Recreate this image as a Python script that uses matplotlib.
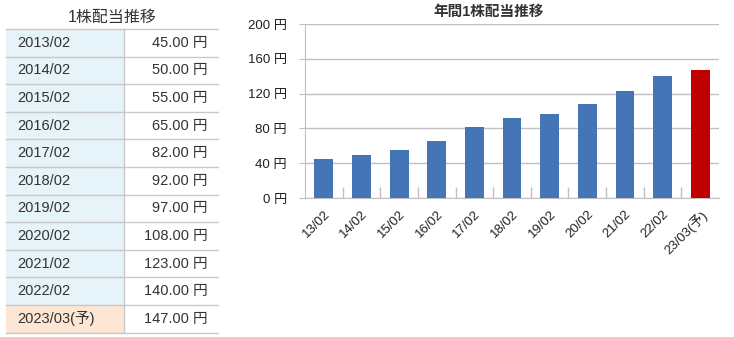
import numpy as np
import matplotlib.pyplot as plt

plt.rcParams['font.family'] = ['Liberation Sans', 'Noto Sans CJK JP', 'DejaVu Sans']

# data
periods = ['2013/02', '2014/02', '2015/02', '2016/02', '2017/02', '2018/02',
           '2019/02', '2020/02', '2021/02', '2022/02', '2023/03(予)']
short_labels = ['13/02', '14/02', '15/02', '16/02', '17/02', '18/02',
                '19/02', '20/02', '21/02', '22/02', '23/03(予)']
dividends = [45.0, 50.0, 55.0, 65.0, 82.0, 92.0, 97.0, 108.0, 123.0, 140.0, 147.0]
forecast = [False] * 10 + [True]

W, H = 734, 337
fig = plt.figure(figsize=(W / 100, H / 100), dpi=100)

# ---- table (left) in pixel coords ----
tax = fig.add_axes([0, 0, 1, 1])
tax.set_xlim(0, W)
tax.set_ylim(H, 0)
tax.axis('off')

grid_c = '#c8c8c8'
txt_c = '#333333'
row_top, row_h = 29, 27.6
x0, xmid, x1 = 6, 124, 218
tax.text((x0 + x1) / 2, 17, '1株配当推移', ha='center', va='center', fontsize=11.5, color=txt_c)
for i, (p, v) in enumerate(zip(periods, dividends)):
    y = row_top + i * row_h
    bg = '#fde6d4' if forecast[i] else '#e6f3f8'
    tax.add_patch(plt.Rectangle((x0, y), xmid - x0, row_h, color=bg, lw=0))
    tax.plot([x0, x1], [y + row_h, y + row_h], color=grid_c, lw=1)
    tax.text(x0 + 11, y + row_h / 2, p, ha='left', va='center', fontsize=10.5, color=txt_c)
    tax.text(x1 - 10, y + row_h / 2, f'{v:.2f} 円', ha='right', va='center', fontsize=10.5, color=txt_c)
tax.plot([x0, x1], [row_top, row_top], color=grid_c, lw=1)
tax.plot([xmid, xmid], [row_top, row_top + len(periods) * row_h], color=grid_c, lw=1)

# ---- bar chart (right) ----
ax = fig.add_axes([305 / W, (H - 198) / H, (719 - 305) / W, (198 - 24) / H])
x = np.arange(len(dividends))
colors = ['#c00000' if f else '#4574b7' for f in forecast]
ax.bar(x, dividends, width=0.5, color=colors, zorder=3)
ax.set_xlim(-0.5, len(dividends) - 0.5)
ax.set_ylim(0, 200)
yt = np.arange(0, 201, 40)
ax.set_yticks(yt)
ax.set_yticklabels([f'{t} 円' for t in yt], fontsize=9.5, color='#222222')
ax.yaxis.grid(True, color='#c0c0c0', lw=1, zorder=0)
ax.tick_params(axis='y', length=4, color='#c0c0c0', pad=9)

ax.set_xticks(x)
ax.set_xticklabels(short_labels, rotation=45, ha='right', rotation_mode='anchor',
                   fontsize=9.5, color='#222222')
ax.tick_params(axis='x', length=0, pad=7)
ax.set_xticks(np.arange(0.5, len(dividends) - 1, 1), minor=True)
ax.tick_params(axis='x', which='minor', direction='in', length=8, width=1, color='#c0c0c0')

for s in ['top', 'right']:
    ax.spines[s].set_visible(False)
for s in ['left', 'bottom']:
    ax.spines[s].set_color('#c0c0c0')

fig.text(489 / W, 1 - 12 / H, '年間1株配当推移', ha='center', va='center',
         fontsize=10.5, fontweight='bold', color=txt_c)

fig.savefig('out.png', dpi=100)
